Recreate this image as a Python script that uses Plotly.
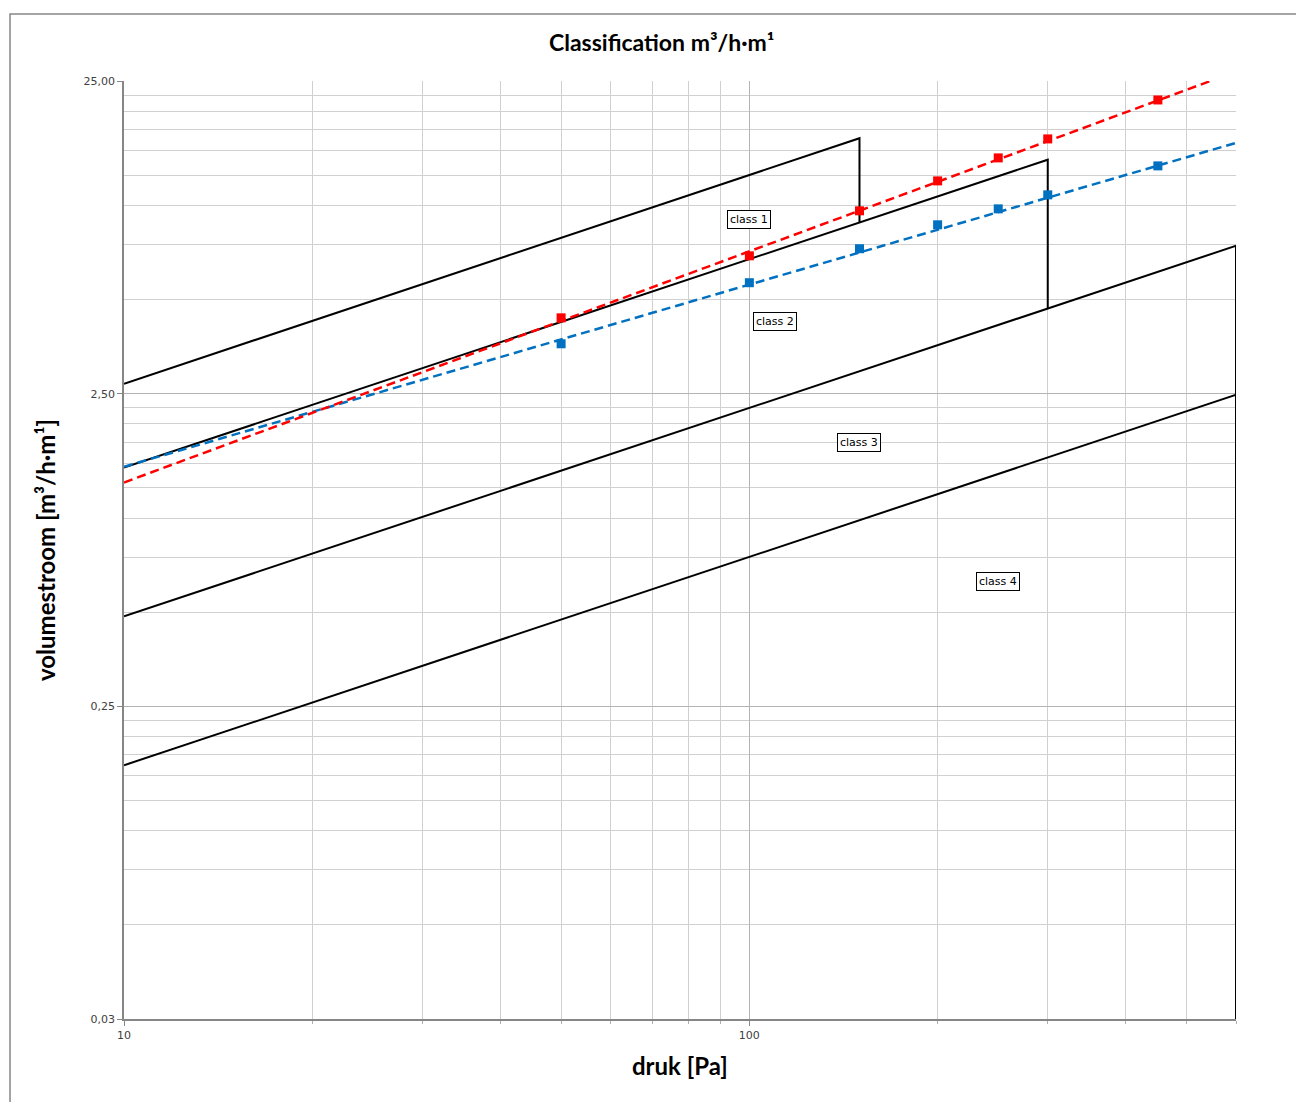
import math
import plotly.graph_objects as go

# ---- data ----
class1_x = [10, 150, 150]
class1_y = [2.69, 16.4, 8.84]
class2_x = [10, 300, 300]
class2_y = [1.45, 14.0, 4.68]
class3_x = [10, 600, 600]
class3_y = [0.485, 7.43, 2.48]
class4_x = [10, 600, 600]
class4_y = [0.162, 2.48, 0.025]

red_p = [50, 100, 150, 200, 250, 300, 450]
red_q = [4.37, 6.90, 9.61, 11.98, 14.19, 16.32, 21.74]
blue_p = [50, 100, 150, 200, 250, 300, 450, 600]
blue_q = [3.61, 5.66, 7.27, 8.67, 9.75, 10.81, 13.38, 15.85]

red_trend_x = [10, 600]
red_trend_y = [1.30, 26.8]
blue_trend_x = [10, 600]
blue_trend_y = [1.46, 15.85]

x_ticks = [10, 100]
x_ticktext = ["10", "100"]
x_minor = [20, 30, 40, 50, 60, 70, 80, 90, 200, 300, 400, 500, 600]
y_ticks = [0.025, 0.25, 2.5, 25]
y_ticktext = ["0,03", "0,25", "2,50", "25,00"]
y_minor = [round(b * k, 4) for b in (0.025, 0.25, 2.5) for k in range(2, 10)]

class_labels = ["class 1", "class 2", "class 3", "class 4"]
class_label_x = [100, 110, 150, 250]
class_label_y = [8.99, 4.25, 1.744, 0.627]

fig = go.Figure()

for cx, cy in [(class1_x, class1_y), (class2_x, class2_y), (class3_x, class3_y), (class4_x, class4_y)]:
    fig.add_trace(go.Scatter(x=cx, y=cy, mode="lines",
                             line=dict(color="black", width=2), showlegend=False, hoverinfo="skip"))

fig.add_trace(go.Scatter(x=blue_trend_x, y=blue_trend_y, mode="lines",
                         line=dict(color="#0070C0", width=2.5, dash="9px,5px"), showlegend=False))
fig.add_trace(go.Scatter(x=red_trend_x, y=red_trend_y, mode="lines",
                         line=dict(color="#FF0000", width=2.5, dash="9px,5px"), showlegend=False))
fig.add_trace(go.Scatter(x=blue_p, y=blue_q, mode="markers", cliponaxis=False,
                         marker=dict(symbol="square", size=9, color="#0070C0"), showlegend=False))
fig.add_trace(go.Scatter(x=red_p, y=red_q, mode="markers", cliponaxis=False,
                         marker=dict(symbol="square", size=9, color="#FF0000"), showlegend=False))

tick_font = dict(family="DejaVu Sans", size=11, color="#404040")
title_font = dict(family="Lato", size=24, color="black")

annotations = []
for t, ax_, ay_ in zip(class_labels, class_label_x, class_label_y):
    annotations.append(dict(x=math.log10(ax_), y=math.log10(ay_), xref="x", yref="y", text=t,
                            showarrow=False, xanchor="center", yanchor="middle",
                            font=dict(family="DejaVu Sans", size=11, color="black"),
                            bgcolor="white", bordercolor="black", borderwidth=1, borderpad=2))

annotations.append(dict(x=0.4838, y=1.0416, xref="paper", yref="paper", showarrow=False,
                        xanchor="center", yanchor="middle",
                        text="<b>Classification m³/h·m¹</b>",
                        font=dict(family="Lato", size=23, color="black")))
annotations.append(dict(x=0.5, y=-0.0501, xref="paper", yref="paper", showarrow=False,
                        xanchor="center", yanchor="middle",
                        text="<b>druk [Pa]</b>", font=title_font))
annotations.append(dict(x=-0.0710, y=0.5, xref="paper", yref="paper", showarrow=False,
                        xanchor="center", yanchor="middle",
                        textangle=-90, text="<b>volumestroom [m³/h·m¹]</b>", font=title_font))

fig.update_layout(
    width=1296, height=1094,
    margin=dict(l=116, r=68, t=73, b=83),
    paper_bgcolor="white", plot_bgcolor="white",
    annotations=annotations,
    shapes=[dict(type="rect", xref="paper", yref="paper",
                 x0=-0.1025, x1=1.0755, y0=-0.1077, y1=1.0714,
                 line=dict(color="#868686", width=1.5), layer="below")],
    xaxis=dict(type="log", range=[1, 2.77815], tickmode="array", tickvals=x_ticks, ticktext=x_ticktext,
               tickfont=tick_font, showgrid=True, gridcolor="#B4B4B4", gridwidth=1,
               showline=True, linecolor="#868686", linewidth=1.5,
               ticks="outside", ticklen=5, tickcolor="#868686",
               minor=dict(tickmode="array", tickvals=x_minor, showgrid=True,
                          gridcolor="#D0D0D0", gridwidth=1, ticks="outside", ticklen=3, tickcolor="#B0B0B0"),
               zeroline=False),
    yaxis=dict(type="log", range=[-1.60206, 1.39794], tickmode="array", tickvals=y_ticks, ticktext=y_ticktext,
               tickfont=tick_font, showgrid=True, gridcolor="#B4B4B4", gridwidth=1,
               showline=True, linecolor="#868686", linewidth=1.5,
               ticks="outside", ticklen=5, tickcolor="#868686",
               minor=dict(tickmode="array", tickvals=y_minor, showgrid=True,
                          gridcolor="#D0D0D0", gridwidth=1, ticks=""),
               zeroline=False),
)

fig.write_html("out.html")
